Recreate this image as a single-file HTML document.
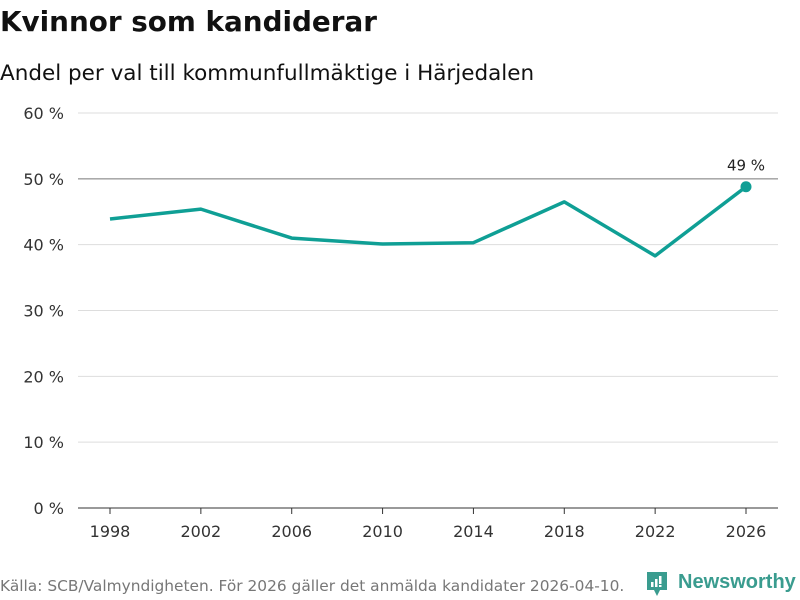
<!DOCTYPE html>
<html><head><meta charset="utf-8">
<style>
body{margin:0;width:800px;height:600px;background:#fff;font-family:"DejaVu Sans","Liberation Sans",sans-serif;overflow:hidden;position:relative}
.t{position:absolute;white-space:nowrap}
</style></head>
<body>
<div class="t" style="left:0;top:5px;font-size:27.8px;font-weight:bold;color:#111">Kvinnor som kandiderar</div>
<div class="t" style="left:0;top:61px;font-size:21.5px;color:#111">Andel per val till kommunfullmäktige i Härjedalen</div>
<svg id="c" width="800" height="560" style="position:absolute;left:0;top:0"></svg>
<div class="t" style="left:0;top:577px;font-size:15.4px;color:#777">Källa: SCB/Valmyndigheten. För 2026 gäller det anmälda kandidater 2026-04-10.</div>
<div class="t" style="left:645px;top:570px;height:28px">
<svg width="24" height="28" style="position:absolute;left:0;top:0"><path d="M2 2h20v18h-7l-3 6-3-6H2z" fill="#3a9c8f"/><rect x="6" y="12" width="2.5" height="5" fill="#fff"/><rect x="10" y="9" width="2.5" height="8" fill="#fff"/><rect x="14" y="6" width="2.5" height="8" fill="#fff"/><rect x="14" y="15" width="2.5" height="2" fill="#fff"/></svg>
<span style="position:absolute;left:33px;top:1px;font-family:'Liberation Sans',sans-serif;font-size:20px;font-weight:bold;color:#3a9c8f">Newsworthy</span></div>
<script>
const years=[1998,2002,2006,2010,2014,2018,2022,2026];
const values=[43.9,45.4,41.0,40.1,40.3,46.5,38.3,48.8];
const yTicks=[0,10,20,30,40,50,60];
const ns="http://www.w3.org/2000/svg",svg=document.getElementById('c');
const x=v=>110+(v-1998)*(636/28), y=v=>508-v*(395/60);
function mk(t,a,p){const e=document.createElementNS(ns,t);for(const k in a)e.setAttribute(k,a[k]);(p||svg).appendChild(e);return e;}
yTicks.forEach(v=>{
 const l=mk('line',{x1:78,x2:778,y1:y(v),y2:y(v),stroke:v===50?'#777':(v===0?'#333':'#ddd'),'stroke-width':1});
 
 
 const t=mk('text',{x:64,y:y(v)+6,'text-anchor':'end','font-size':16,fill:'#333','font-family':'DejaVu Sans,sans-serif'});
 t.textContent=v+' %';
 
 
});
years.forEach(v=>{
 const tk=mk('line',{x1:x(v),x2:x(v),y1:508,y2:514,stroke:'#333'});
 
 
 const t=mk('text',{x:x(v),y:537,'text-anchor':'middle','font-size':16,fill:'#333','font-family':'DejaVu Sans,sans-serif'});
 t.textContent=v;
 
 
});
const p=mk('polyline',{points:years.map((v,i)=>x(v)+','+y(values[i])).join(' '),fill:'none',stroke:'#0f9f95','stroke-width':3.5,'stroke-linejoin':'round'});


const n=years.length-1;
const d=mk('circle',{cx:x(years[n]),cy:y(values[n]),r:5.5,fill:'#0f9f95'});


const lb=mk('text',{x:x(years[n]),y:y(values[n])-16,'text-anchor':'middle','font-size':15,fill:'#222','font-family':'DejaVu Sans,sans-serif'});
lb.textContent=Math.round(values[n])+' %';


</script>
</body></html>
